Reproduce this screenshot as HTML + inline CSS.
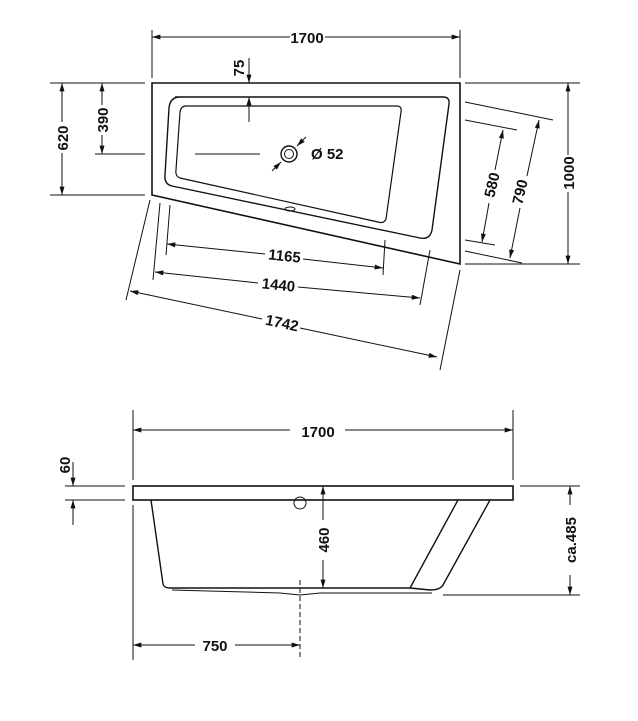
<!DOCTYPE html>
<html><head><meta charset="utf-8"><style>
html,body{margin:0;padding:0;background:#fff;}
svg{display:block;}
text{font-family:"Liberation Sans",sans-serif;font-weight:bold;font-size:15px;fill:#111;}
</style></head><body>
<svg width="638" height="721" viewBox="0 0 638 721" xmlns="http://www.w3.org/2000/svg">
<defs>
<marker id="a" viewBox="0 0 10 6" refX="10" refY="3" markerWidth="9" markerHeight="5" orient="auto-start-reverse" markerUnits="userSpaceOnUse"><path d="M0,0L10,3L0,6z" fill="#111"/></marker>
</defs>
<g stroke="#111" fill="none" stroke-width="1">
<!-- TOP VIEW -->
<path d="M152,83H460V264L152,195Z" stroke-width="1.6"/>
<path d="M175,97H443Q450,97 449,104L432,230Q430,240 420,238L172,186Q164,184 165,175L169,108Q170,97 180,97Z" stroke-width="1.4"/>
<path d="M186,106H397Q402,106 401,112L386,219Q384,224 378,222L180,178Q175,176 176,170L180,112Q181,106 186,106Z" stroke-width="1.2"/>
<!-- ext lines -->
<line x1="152" y1="30" x2="152" y2="78"/><line x1="460" y1="30" x2="460" y2="78"/>
<line x1="50" y1="83" x2="145" y2="83"/><line x1="50" y1="195" x2="145" y2="195"/>
<line x1="95" y1="154" x2="145" y2="154"/>
<line x1="195" y1="154" x2="260" y2="154"/>
<line x1="465" y1="83" x2="580" y2="83"/><line x1="465" y1="264" x2="580" y2="264"/>
<line x1="465" y1="102" x2="553" y2="120"/><line x1="465" y1="251" x2="522" y2="263"/>
<line x1="465" y1="120" x2="517" y2="130"/><line x1="465" y1="240" x2="495" y2="245"/>
<line x1="150" y1="200" x2="126" y2="300"/><line x1="160" y1="203" x2="153" y2="280"/>
<line x1="170" y1="205" x2="166" y2="255"/><line x1="385" y1="240" x2="383" y2="275"/>
<line x1="430" y1="250" x2="420" y2="305"/><line x1="460" y1="270" x2="440" y2="370"/>
<!-- dims -->
<line x1="152" y1="37" x2="290" y2="37" marker-start="url(#a)"/><line x1="325" y1="37" x2="460" y2="37" marker-end="url(#a)"/>
<line x1="62" y1="83" x2="62" y2="122" marker-start="url(#a)"/><line x1="62" y1="153" x2="62" y2="195" marker-end="url(#a)"/>
<line x1="102" y1="83" x2="102" y2="105" marker-start="url(#a)"/><line x1="102" y1="135" x2="102" y2="154" marker-end="url(#a)"/>
<line x1="249" y1="58" x2="249" y2="83" marker-end="url(#a)"/><line x1="249" y1="122" x2="249" y2="97" marker-end="url(#a)"/>
<line x1="568" y1="83" x2="568" y2="155" marker-start="url(#a)"/><line x1="568" y1="192" x2="568" y2="264" marker-end="url(#a)"/>
<line x1="539" y1="120" x2="527" y2="176" marker-start="url(#a)"/><line x1="520" y1="208" x2="510" y2="258" marker-end="url(#a)"/>
<line x1="503" y1="130" x2="495" y2="170" marker-start="url(#a)"/><line x1="489" y1="203" x2="482" y2="242" marker-end="url(#a)"/>
<line x1="167" y1="244" x2="265" y2="254" marker-start="url(#a)"/><line x1="303" y1="259" x2="383" y2="268" marker-end="url(#a)"/>
<line x1="155" y1="272" x2="258" y2="283" marker-start="url(#a)"/><line x1="298" y1="287" x2="420" y2="298" marker-end="url(#a)"/>
<line x1="130" y1="291" x2="262" y2="319" marker-start="url(#a)"/><line x1="300" y1="328" x2="437" y2="357" marker-end="url(#a)"/>
<!-- drain -->
<circle cx="289" cy="154" r="8" stroke-width="1.4"/><circle cx="289" cy="154" r="4.5"/>
<line x1="272" y1="171" x2="281" y2="162" marker-end="url(#a)"/><line x1="306" y1="137" x2="297" y2="146" marker-end="url(#a)"/>
<ellipse cx="290" cy="209" rx="5" ry="2"/>
<!-- SIDE VIEW -->
<rect x="133" y="486" width="380" height="14" stroke-width="1.6"/>
<path d="M151,500L163,584Q164,588 170,588L410,588L458,500" stroke-width="1.4"/>
<path d="M490,500L443,585Q440,590 430,590L410,588" stroke-width="1.4"/>
<path d="M172,590L280,593L300,595L320,593L432,593" stroke-width="1"/>
<circle cx="300" cy="503" r="6"/>
<line x1="133" y1="410" x2="133" y2="480"/><line x1="513" y1="410" x2="513" y2="480"/>
<line x1="133" y1="430" x2="290" y2="430" marker-start="url(#a)"/><line x1="345" y1="430" x2="513" y2="430" marker-end="url(#a)"/>
<line x1="65" y1="486" x2="125" y2="486"/><line x1="65" y1="500" x2="125" y2="500"/>
<line x1="73" y1="462" x2="73" y2="486" marker-end="url(#a)"/><line x1="73" y1="525" x2="73" y2="500" marker-end="url(#a)"/>
<line x1="323" y1="486" x2="323" y2="520" marker-start="url(#a)"/><line x1="323" y1="560" x2="323" y2="588" marker-end="url(#a)"/>
<line x1="520" y1="486" x2="580" y2="486"/><line x1="443" y1="595" x2="580" y2="595"/>
<line x1="570" y1="486" x2="570" y2="505" marker-start="url(#a)"/><line x1="570" y1="575" x2="570" y2="595" marker-end="url(#a)"/>
<line x1="133" y1="505" x2="133" y2="660"/><line x1="300" y1="580" x2="300" y2="660" stroke-dasharray="5,3"/>
<line x1="133" y1="645" x2="195" y2="645" marker-start="url(#a)"/><line x1="235" y1="645" x2="300" y2="645" marker-end="url(#a)"/>
</g>
<text x="307" y="43" text-anchor="middle">1700</text>
<text transform="translate(68,138) rotate(-90)" text-anchor="middle">620</text>
<text transform="translate(108,120) rotate(-90)" text-anchor="middle">390</text>
<text transform="translate(244,68) rotate(-90)" text-anchor="middle">75</text>
<text x="311" y="159">Ø 52</text>
<text transform="translate(574,173) rotate(-90)" text-anchor="middle">1000</text>
<text transform="translate(525,193) rotate(-77)" text-anchor="middle">790</text>
<text transform="translate(497,186) rotate(-77)" text-anchor="middle">580</text>
<text transform="translate(284,261) rotate(6)" text-anchor="middle">1165</text>
<text transform="translate(278,290) rotate(6)" text-anchor="middle">1440</text>
<text transform="translate(281,328) rotate(12)" text-anchor="middle">1742</text>
<text x="318" y="437" text-anchor="middle" font-size="17">1700</text>
<text transform="translate(70,465) rotate(-90)" text-anchor="middle" font-size="17">60</text>
<text transform="translate(329,540) rotate(-90)" text-anchor="middle" font-size="17">460</text>
<text transform="translate(576,540) rotate(-90)" text-anchor="middle" font-size="17">ca.485</text>
<text x="215" y="651" text-anchor="middle" font-size="17">750</text>
</svg>
</body></html>
